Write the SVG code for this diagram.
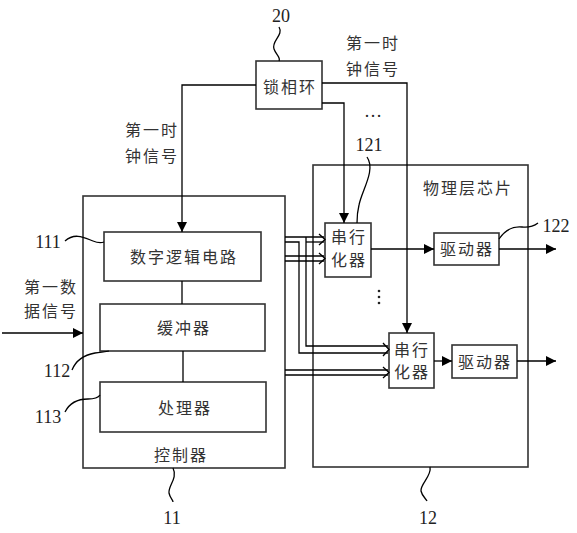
<svg xmlns="http://www.w3.org/2000/svg" width="577" height="533" viewBox="0 0 577 533">
<defs>
<marker id="ah" viewBox="0 0 10 10" refX="10" refY="5" markerWidth="10" markerHeight="10" markerUnits="userSpaceOnUse" orient="auto">
<path d="M0,0 L10,5 L0,10 Z" fill="#000"/>
</marker>
</defs>
<style>
.box{fill:#fff;stroke:#333;stroke-width:1.6}
.ln{fill:none;stroke:#000;stroke-width:1.3}
.sq{fill:none;stroke:#000;stroke-width:1.3}
.cn{font-family:"Noto Sans CJK SC",sans-serif;font-size:16px;fill:#333;letter-spacing:2px}
.num{font-family:"Liberation Serif",serif;font-size:18px;fill:#222}
</style>
<rect width="577" height="533" fill="#fff"/>

<g id="controller">
<rect class="box" x="83" y="196" width="202" height="272"/>
<text class="cn" x="181" y="461" text-anchor="middle">控制器</text>
<path class="sq" d="M173,468 C178,478 168,486 169,493 C170,498 173,500 173,502"/>
<text class="num" x="172" y="524" text-anchor="middle">11</text>
</g>

<g id="phy">
<rect class="box" x="313" y="165" width="215" height="302"/>
<text class="cn" x="468" y="194" text-anchor="middle">物理层芯片</text>
<path class="sq" d="M430,467 C432,476 420,484 421,491 C422,496 426,499 427,501"/>
<text class="num" x="428" y="524" text-anchor="middle">12</text>
</g>

<g id="pll">
<rect class="box" x="256" y="61" width="66" height="48"/>
<text class="cn" x="290" y="93" text-anchor="middle">锁相环</text>
<path class="sq" d="M279,27 C284,35 271,41 274,49 C276,55 281,57 279,61"/>
<text class="num" x="281" y="22" text-anchor="middle">20</text>
</g>

<g id="dlogic">
<rect class="box" x="104" y="232" width="157" height="49"/>
<text class="cn" x="184" y="263" text-anchor="middle">数字逻辑电路</text>
<path class="sq" d="M65,241 C75,232 85,238 93,241 C98,243 101,243 104,242"/>
<text class="num" x="48" y="248" text-anchor="middle">111</text>
</g>

<g id="buffer">
<rect class="box" x="100" y="304" width="165" height="47"/>
<text class="cn" x="184" y="334" text-anchor="middle">缓冲器</text>
<path class="sq" d="M72,370 C76,360 84,355 95,353 C102,352 106,352 109,351"/>
<text class="num" x="57" y="377" text-anchor="middle">112</text>
</g>

<g id="processor">
<rect class="box" x="100" y="382" width="166" height="50"/>
<text class="cn" x="185" y="414" text-anchor="middle">处理器</text>
<path class="sq" d="M65,412 C70,402 80,399 88,399 C94,399 98,398 100,395"/>
<text class="num" x="48" y="423" text-anchor="middle">113</text>
</g>

<g id="ser1">
<rect class="box" x="325" y="223" width="46" height="54"/>
<text class="cn" x="349" y="243" text-anchor="middle">串行</text>
<text class="cn" x="349" y="266" text-anchor="middle">化器</text>
<path class="sq" d="M367,157 C376,170 362,190 359,205 C357,213 357,218 357,223"/>
<text class="num" x="369" y="151" text-anchor="middle">121</text>
</g>

<g id="drv1">
<rect class="box" x="434" y="233" width="65" height="32"/>
<text class="cn" x="467" y="255" text-anchor="middle">驱动器</text>
<path class="sq" d="M499,239 C505,230 512,226 522,227 C530,228 534,226 538,223"/>
<text class="num" x="556" y="232" text-anchor="middle">122</text>
</g>

<g id="ser2">
<rect class="box" x="389" y="333" width="45" height="55"/>
<text class="cn" x="412" y="356" text-anchor="middle">串行</text>
<text class="cn" x="412" y="378" text-anchor="middle">化器</text>
</g>

<g id="drv2">
<rect class="box" x="452" y="345" width="65" height="33"/>
<text class="cn" x="485" y="368" text-anchor="middle">驱动器</text>
</g>

<g id="labels">
<text class="cn" x="373" y="49" text-anchor="middle">第一时</text>
<text class="cn" x="373" y="75" text-anchor="middle">钟信号</text>
<text class="cn" x="152" y="136" text-anchor="middle">第一时</text>
<text class="cn" x="152" y="162" text-anchor="middle">钟信号</text>
<text class="cn" x="51" y="293" text-anchor="middle">第一数</text>
<text class="cn" x="51" y="317" text-anchor="middle">据信号</text>
<text class="num" x="373" y="117" text-anchor="middle">…</text>
<circle cx="379" cy="291" r="1.3" fill="#222"/>
<circle cx="379" cy="297" r="1.3" fill="#222"/>
<circle cx="379" cy="303" r="1.3" fill="#222"/>
</g>

<g id="connectors">
<path class="ln" d="M256,85 H182 V232" marker-end="url(#ah)"/>
<path class="ln" d="M322,103 H344 V223" marker-end="url(#ah)"/>
<path class="ln" d="M322,83 H407 V333" marker-end="url(#ah)"/>
<path class="ln" d="M182,281 V304"/>
<path class="ln" d="M183,351 V382"/>
<path class="ln" d="M2,333 H83" marker-end="url(#ah)"/>
<path class="ln" d="M371,249 H434" marker-end="url(#ah)"/>
<path class="ln" d="M499,249 H556" marker-end="url(#ah)"/>
<path class="ln" d="M434,361 H452" marker-end="url(#ah)"/>
<path class="ln" d="M517,361 H556" marker-end="url(#ah)"/>
<!-- buses -->
<path class="ln" d="M285,237 H324"/>
<path class="ln" d="M285,242 H299 V353 H388"/>
<path class="ln" d="M306,242 H324"/>
<path class="ln" d="M306,237 V346 H388"/>
<path class="ln" d="M285,256 H324"/>
<path class="ln" d="M285,261 H324"/>
<path class="ln" d="M285,370 H388"/>
<path class="ln" d="M285,375 H388"/>
<path class="ln" d="M319,234 L325,239.5 L319,245"/>
<path class="ln" d="M319,253 L325,258.5 L319,264"/>
<path class="ln" d="M383,343 L389,349.5 L383,356"/>
<path class="ln" d="M383,367 L389,372.5 L383,378"/>
</g>
</svg>
